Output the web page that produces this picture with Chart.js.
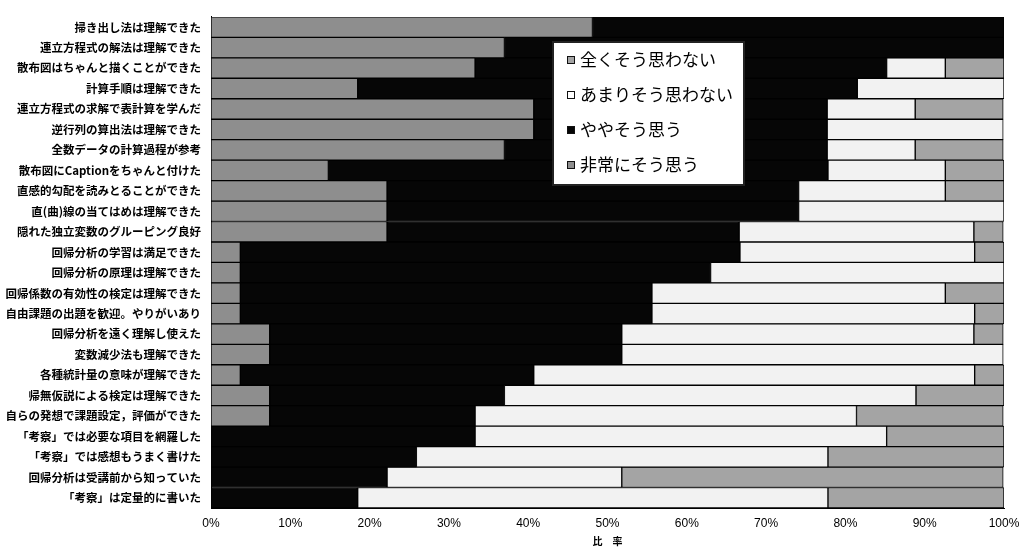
<!DOCTYPE html>
<html>
<head>
<meta charset="utf-8">
<script src="https://cdn.jsdelivr.net/npm/chart.js@4/dist/chart.umd.min.js"></script>
<style>
  html, body { margin: 0; padding: 0; background: #fff; }
  #wrap { width: 1034px; height: 547px; position: relative; }
</style>
</head>
<body>
<div id="wrap"><canvas id="c" width="1034" height="547"></canvas></div>
<script>
const categories = [
  '掃き出し法は理解できた',
  '連立方程式の解法は理解できた',
  '散布図はちゃんと描くことができた',
  '計算手順は理解できた',
  '連立方程式の求解で表計算を学んだ',
  '逆行列の算出法は理解できた',
  '全数データの計算過程が参考',
  '散布図にCaptionをちゃんと付けた',
  '直感的勾配を読みとることができた',
  '直(曲)線の当てはめは理解できた',
  '隠れた独立変数のグルーピング良好',
  '回帰分析の学習は満足できた',
  '回帰分析の原理は理解できた',
  '回帰係数の有効性の検定は理解できた',
  '自由課題の出題を歓迎。やりがいあり',
  '回帰分析を遠く理解し使えた',
  '変数減少法も理解できた',
  '各種統計量の意味が理解できた',
  '帰無仮説による検定は理解できた',
  '自らの発想で課題設定，評価ができた',
  '「考察」では必要な項目を網羅した',
  '「考察」では感想もうまく書けた',
  '回帰分析は受講前から知っていた',
  '「考察」は定量的に書いた'
];
const seriesNames = ['非常にそう思う', 'ややそう思う', 'あまりそう思わない', '全くそう思わない'];
const strongAgree = [48.1, 37.0, 33.3, 18.5, 40.7, 40.7, 37.0, 14.8, 22.2, 22.2, 22.2, 3.7, 3.7, 3.7, 3.7, 7.4, 7.4, 3.7, 7.4, 7.4, 0, 0, 0, 0];
const agree       = [51.9, 63.0, 51.9, 63.0, 37.0, 37.0, 40.7, 63.0, 51.9, 51.9, 44.4, 63.0, 59.3, 51.9, 51.9, 44.4, 44.4, 37.0, 29.6, 25.9, 33.3, 25.9, 22.2, 18.5];
const disagree    = [0, 0, 7.4, 18.5, 11.1, 22.2, 11.1, 14.8, 18.5, 25.9, 29.6, 29.6, 37.0, 37.0, 40.7, 44.4, 48.1, 55.6, 51.9, 48.1, 51.9, 51.9, 29.6, 59.3];
const strongDis   = [0, 0, 7.4, 0, 11.1, 0, 11.1, 7.4, 7.4, 0, 3.7, 3.7, 0, 7.4, 3.7, 3.7, 0, 3.7, 11.1, 18.5, 14.8, 22.2, 48.1, 22.2];
const xTicks = [0, 10, 20, 30, 40, 50, 60, 70, 80, 90, 100];
const legendOrder = ['全くそう思わない', 'あまりそう思わない', 'ややそう思う', '非常にそう思う'];

const colors = {
  '非常にそう思う': '#8e8e8e',
  'ややそう思う': '#060606',
  'あまりそう思わない': '#f2f2f2',
  '全くそう思わない': '#a4a4a4'
};
const seriesData = [strongAgree, agree, disagree, strongDis];

const CJK = '"Noto Sans CJK JP", "Noto Sans", sans-serif';

const legendBox = {
  id: 'legendBox',
  afterDraw(chart) {
    const ctx = chart.ctx;
    const x = 553, y = 42, w = 191, h = 143;
    ctx.save();
    ctx.fillStyle = '#ffffff';
    ctx.fillRect(x, y, w, h);
    ctx.strokeStyle = '#222';
    ctx.lineWidth = 2;
    ctx.strokeRect(x, y, w, h);
    ctx.font = '17px ' + CJK;
    ctx.textBaseline = 'middle';
    legendOrder.forEach((name, i) => {
      const cy = y + 18 + i * 35;
      ctx.fillStyle = colors[name] === '#f2f2f2' ? '#ffffff' : colors[name];
      ctx.fillRect(567, cy - 4, 8, 8);
      ctx.strokeStyle = '#111';
      ctx.lineWidth = 1;
      ctx.strokeRect(567.5, cy - 3.5, 7, 7);
      ctx.fillStyle = '#000';
      ctx.fillText(name, 580, cy);
    });
    ctx.restore();
  }
};

new Chart(document.getElementById('c'), {
  type: 'bar',
  data: {
    labels: categories,
    datasets: seriesNames.map((name, i) => ({
      label: name,
      data: seriesData[i],
      backgroundColor: colors[name],
      borderColor: '#000',
      borderWidth: 1,
      borderSkipped: false,
      barPercentage: 1,
      categoryPercentage: 1
    }))
  },
  options: {
    indexAxis: 'y',
    responsive: false,
    animation: false,
    layout: { padding: { left: 0, right: 30, top: 7, bottom: 0 } },
    plugins: { legend: { display: false }, tooltip: { enabled: false } },
    scales: {
      x: {
        stacked: true,
        min: 0, max: 100,
        afterBuildTicks(scale) { scale.ticks = xTicks.map(v => ({ value: v })); },
        afterFit(scale) { scale.height = 39; },
        grid: { display: false, drawTicks: false },
        border: { display: true, color: '#000', width: 1 },
        ticks: {
          color: '#000',
          padding: 8,
          maxRotation: 0,
          font: { family: '"Liberation Sans", Arial, sans-serif', size: 12 },
          callback: v => v + '%'
        },
        title: {
          display: true,
          text: '比　率',
          color: '#000',
          padding: { top: 3, bottom: 0 },
          font: { family: CJK, size: 10, weight: 'bold' }
        }
      },
      y: {
        stacked: true,
        afterFit(scale) { scale.width = 211; },
        grid: { display: false, drawTicks: false },
        border: { display: true, color: '#000', width: 1 },
        ticks: {
          color: '#000',
          padding: 10,
          autoSkip: false,
          font: { family: CJK, size: 11.5, weight: 'bold' }
        }
      }
    }
  },
  plugins: [legendBox]
});
</script>
</body>
</html>
